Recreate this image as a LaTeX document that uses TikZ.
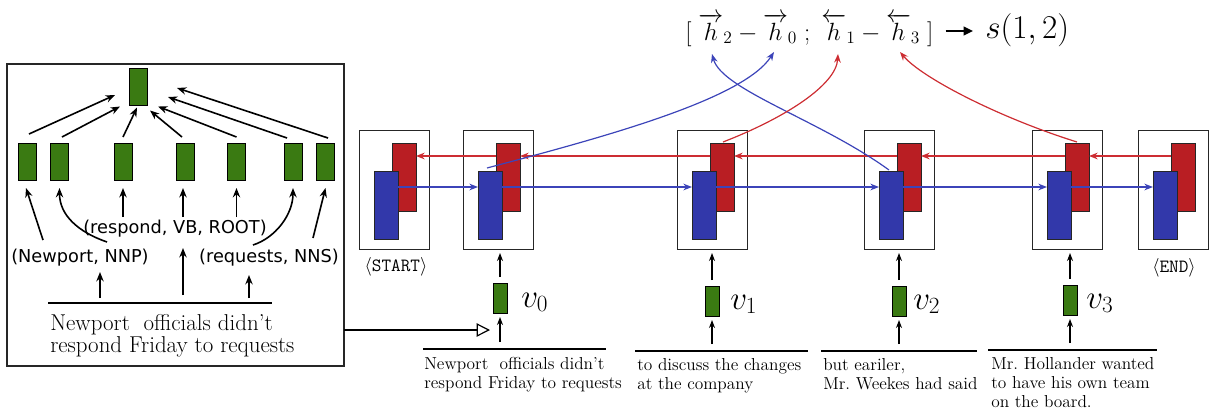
\RequirePackage{fix-cm}
\documentclass[tikz,border=0pt]{standalone}
\usepackage{fontspec}
\newfontfamily\labfont{DejaVu Sans}
\usepackage{amsmath}
\usetikzlibrary{arrows.meta,calc}
\definecolor{lstmred}{RGB}{185,30,35}
\definecolor{lstmblue}{RGB}{50,56,170}
\definecolor{embgreen}{RGB}{58,122,18}
\definecolor{linered}{RGB}{205,45,50}
\definecolor{lineblue}{RGB}{60,68,185}
\begin{document}
\begin{tikzpicture}[x=0.75pt,y=-0.75pt,
  gbox/.style={draw=black, fill=embgreen, line width=0.6pt, inner sep=0pt, outer sep=0pt, minimum width=13.5pt, minimum height=27.75pt},
  gsmall/.style={gbox, minimum width=10.5pt, minimum height=22.5pt},
  cellbox/.style={draw=black!85, line width=0.75pt, inner sep=0pt, outer sep=0pt, minimum width=52.5pt, minimum height=89.25pt, anchor=north west},
  redrect/.style={draw=black!85, line width=0.6pt, fill=lstmred, inner sep=0pt, outer sep=0pt, minimum width=18pt, minimum height=51pt, anchor=north west},
  bluerect/.style={redrect, fill=lstmblue},
  arr/.style={-{Stealth[length=7pt,width=5.5pt]}, line width=1.2pt},
  varr/.style={-{Stealth[length=6pt,width=4.5pt]}, line width=0.9pt},
  redarr/.style={-{Stealth[length=6.5pt,width=5pt]}, line width=0.9pt, draw=linered, color=linered},
  bluearr/.style={-{Stealth[length=6.5pt,width=5pt]}, line width=0.9pt, draw=lineblue, color=lineblue},
  lab/.style={font=\labfont\fontsize{13.3}{16}\selectfont, inner sep=0pt, anchor=base},
  sent/.style={font=\fontsize{13}{14.5}\selectfont, align=left, inner sep=0pt, anchor=north west},
  vlab/.style={font=\fontsize{24.9}{28}\selectfont, inner sep=0pt, anchor=base west},
  rule/.style={line width=0.9pt},
]
\useasboundingbox (0,0) rectangle (1212,418);

% ---------------- left box: dependency composition ----------------
\node[draw=black!85, line width=0.9pt, minimum width=252.75pt, minimum height=226.5pt,
      anchor=north west, inner sep=0pt, outer sep=0pt] (lbox) at (7,64) {};
\node[gbox] (root) at (138,87) {};
\foreach \n/\x in {1/27,2/59.5,3/123,4/185,5/236.5,6/293,7/325.5}
  \node[gbox] (w\n) at (\x,161.5) {};

\draw[arr] ($(w1.north)+(2,-9)$) -- ($(root.west)+(-14,8)$);
\draw[arr] ($(w2.north)+(2.5,-6)$) -- ($(root.south west)+(-9,1)$);
\draw[arr] ($(w3.north)+(0,-6)$) -- ($(root.south)+(-1,2)$);
\draw[arr] ($(w4.north)+(-3,-6)$) -- ($(root.south east)+(3,5)$);
\draw[arr] ($(w5.north)+(0,-6)$) -- ($(root.south east)+(11,1)$);
\draw[arr] ($(w6.north)+(-6,-5)$) -- ($(root.east)+(21,10)$);
\draw[arr] ($(w7.north)+(2.5,-5)$) -- ($(root.east)+(30,1)$);

\node[lab] (nnp) at (80,262) {(Newport, NNP)};
\node[lab] (vb) at (175,233) {(respond, VB, ROOT)};
\node[lab] (nns) at (269,262) {(requests, NNS)};

\draw[arr] ($(w1.south)+(16,60)$) -- ($(w1.south)+(-1,8)$);
\draw[arr] ($(w2.south)+(47.5,62)$) .. controls ($(w2.south)+(18.5,52)$) and ($(w2.south)+(0,35)$) .. ($(w2.south)+(0,8)$);
\draw[arr] ($(w3.south)+(0,37)$) -- ($(w3.south)+(0,8)$);
\draw[arr] ($(w4.south)+(-2,37)$) -- ($(w4.south)+(-2,8)$);
\draw[arr] ($(w5.south)+(0,37)$) -- ($(w5.south)+(0,8)$);
\draw[arr] ($(w6.south)+(-40,65)$) .. controls ($(w6.south)+(-18,58)$) and ($(w6.south)+(0,35)$) .. ($(w6.south)+(0,8)$);
\draw[arr] ($(w7.south)+(-12.5,58)$) -- ($(w7.south)+(0,8)$);

\coordinate (rl) at (48,303);
\coordinate (rr) at (272,303);
\draw[rule] (rl) -- (rr);
\draw[arr] ($(rl)+(52,-5)$) -- ($(rl)+(52,-31)$);
\draw[arr] ($(rl)+(135,-8)$) -- ($(rl)+(135,-55)$);
\draw[arr] ($(rl)+(201,-5)$) -- ($(rl)+(201,-28)$);
\node[anchor=north west, inner sep=0pt, align=left, font=\fontsize{17.2}{16.5}\selectfont] (lsent) at (50,314)
  {Newport~~officials didn't\\respond Friday to requests};

% ---------------- LSTM cells ----------------
\foreach \nm/\x in {cS/359, c0/463, c1/677, c2/864, c3/1032, cE/1138} {
  \node[cellbox] (\nm) at (\x,130) {};
  \node[redrect] (\nm-r) at (\x+33,143) {};
  \node[bluerect] (\nm-b) at (\x+15,171) {};
}
\coordinate (by) at (0,187);
\coordinate (ry) at (0,156);
\foreach \a/\b in {cS/c0, c0/c1, c1/c2, c2/c3, c3/cE} {
  \draw[bluearr] (\a-b.east |- by) -- (\b-b.west |- by);
  \draw[redarr] (\b-r.west |- ry) -- (\a-r.east |- ry);
}

\node[inner sep=0pt, font=\fontsize{14}{16}\selectfont] (startlab) at (396,267) {$\langle$\texttt{START}$\rangle$};
\node[inner sep=0pt, font=\fontsize{14}{16}\selectfont] (endlab) at (1174,268) {$\langle$\texttt{END}$\rangle$};

% ---------------- word vectors and sentences ----------------
\node[gsmall] (g0) at (500,298) {};
\node[gsmall] (g1) at (712,301) {};
\node[gsmall] (g2) at (899,301) {};
\node[gsmall] (g3) at (1070,300) {};
\node[vlab] (v0) at (521,307) {$v_0$};
\node[vlab] (v1) at (730,309) {$v_1$};
\node[vlab] (v2) at (913,309) {$v_2$};
\node[vlab] (v3) at (1086,308) {$v_3$};

\foreach \g/\c in {g0/c0, g1/c1, g2/c2, g3/c3}
  \draw[varr, shorten <=4.5pt, shorten >=3pt] (\g.north) -- (\g.north |- \c.south);

\draw[rule] (423,349) coordinate (s0l) -- (606,349);
\draw[rule] (635,351) coordinate (s1l) -- (808,351);
\draw[rule] (821,351) coordinate (s2l) -- (977,351);
\draw[rule] (988,350) coordinate (s3l) -- (1157,350);
\foreach \g/\s in {g0/s0l, g1/s1l, g2/s2l, g3/s3l}
  \draw[varr, shorten <=5.25pt, shorten >=3pt] (\g.south |- \s) -- (\g.south);

\node[sent] (t0) at (424,357) {Newport~~officials didn't\\respond Friday to requests};
\node[sent] (t1) at (637,358) {to discuss the changes\\at the company};
\node[sent] (t2) at (823,358) {but eariler,\\Mr.\ Weekes had said};
\node[sent] (t3) at (991,357) {Mr.\ Hollander wanted\\to have his own team\\on the board.};

\coordinate (trgt) at (490,330);
\draw[-{Triangle[open,length=10pt,width=10pt]}, line width=0.9pt] (lbox.east |- trgt) -- (trgt);

% ---------------- span formula ----------------
\node[inner sep=0pt, anchor=base west, font=\fontsize{18.7}{22}\selectfont] (form) at (685,40)
  {$[\;\overrightarrow{h}_2 - \overrightarrow{h}_0\;;\;\overleftarrow{h}_1 - \overleftarrow{h}_3\;]$};
\node[inner sep=0pt, anchor=base west, font=\fontsize{24.9}{28}\selectfont] (s12) at (985,38) {$s(1,2)$};
\coordinate (ay) at (0,31);
\draw[-{Triangle[length=7pt,width=6.5pt]}, line width=1.5pt, shorten <=9pt, shorten >=9pt] (form.east |- ay) -- (s12.west |- ay);

\coordinate (tA) at (712,54);
\coordinate (tB) at (774,52);
\coordinate (tC) at (838,54);
\coordinate (tD) at (900,52);
\draw[bluearr] ($(c2-b.north)+(-2,-1)$) .. controls (820,120) and (722,90) .. (tA);
\draw[bluearr] ($(c0-b.north)+(-3,-3)$) .. controls (600,138) and (743,100) .. (tB);
\draw[redarr] ($(c1-r.north)+(1,-1)$) .. controls (785,118) and (836,85) .. (tC);
\draw[redarr] ($(c3-r.north)+(0,-1)$) .. controls (1000,118) and (922,78) .. (tD);
\end{tikzpicture}
\end{document}
